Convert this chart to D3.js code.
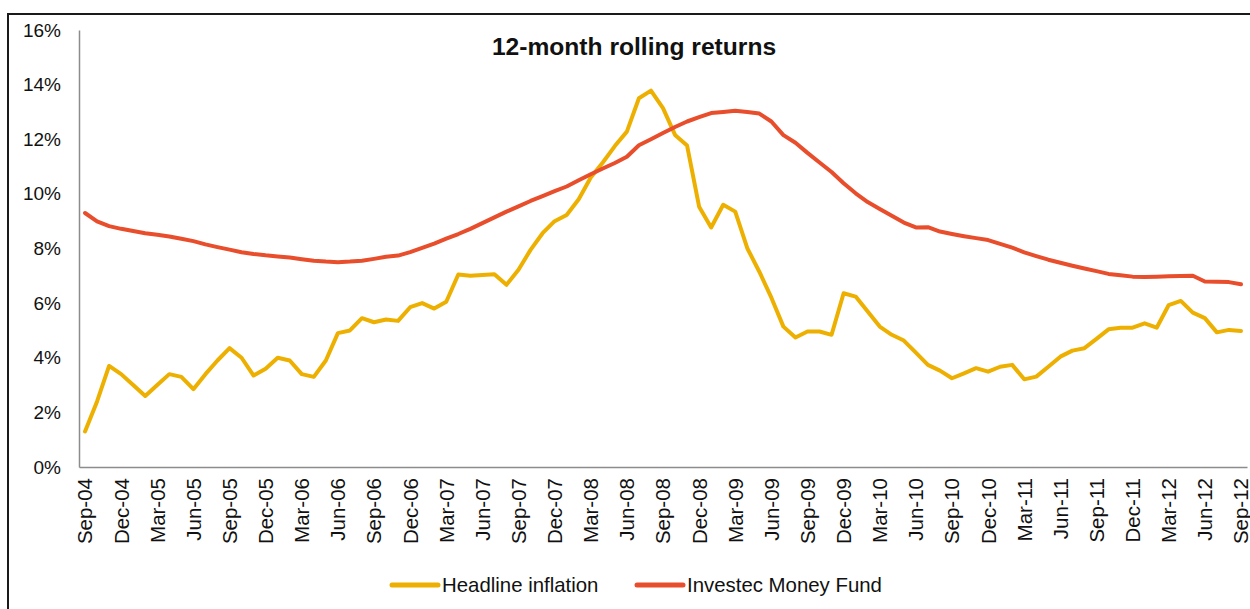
<!DOCTYPE html>
<html>
<head>
<meta charset="utf-8">
<script src="https://cdn.jsdelivr.net/npm/d3@7"></script>
<style>
  body { margin: 0; background: #fff; }
  svg { display: block; font-family: "Liberation Sans", Arial, sans-serif; }
</style>
</head>
<body>
<div id="chart"></div>
<script>
/* DATA */
// monthly categories Sep-04 .. Sep-12
const fmtMonth = d3.timeFormat("%b-%y");
const months = d3.timeMonths(new Date(2004, 8, 1), new Date(2012, 9, 1)).map(fmtMonth);

const headlineInflation = [
  1.3, 2.4, 3.7, 3.4, 3.0, 2.6, 3.0, 3.4, 3.3, 2.85, 3.4, 3.9,
  4.35, 4.0, 3.35, 3.6, 4.0, 3.9, 3.4, 3.3, 3.9, 4.9, 5.0, 5.45,
  5.3, 5.4, 5.35, 5.85, 6.0, 5.8, 6.05, 7.05, 7.0, 7.03, 7.06, 6.67,
  7.22, 7.95, 8.56, 9.0, 9.23, 9.8, 10.6, 11.15, 11.75, 12.28, 13.5, 13.78,
  13.14, 12.16, 11.77, 9.53, 8.77, 9.6, 9.35, 8.01, 7.15, 6.2, 5.14, 4.74,
  4.96, 4.96, 4.84, 6.36, 6.24, 5.69, 5.14, 4.84, 4.63, 4.19, 3.74, 3.53,
  3.25, 3.43, 3.62, 3.49, 3.67, 3.74, 3.21, 3.31, 3.67, 4.04, 4.26, 4.35,
  4.69, 5.04, 5.1, 5.1, 5.26, 5.1, 5.93, 6.08, 5.65, 5.45, 4.93, 5.02,
  4.98
];

const moneyFund = [
  9.3, 8.99, 8.82, 8.72, 8.64, 8.56, 8.5, 8.44, 8.36, 8.27, 8.15, 8.05,
  7.96, 7.86, 7.8, 7.75, 7.71, 7.67, 7.61, 7.55, 7.52, 7.5, 7.52, 7.55,
  7.62, 7.7, 7.74, 7.87, 8.02, 8.18, 8.36, 8.53, 8.72, 8.93, 9.14, 9.35,
  9.54, 9.74, 9.92, 10.1, 10.27, 10.5, 10.72, 10.93, 11.13, 11.36, 11.78, 12.0,
  12.23, 12.45, 12.65, 12.81, 12.96, 13.0, 13.04, 13.0, 12.94, 12.65, 12.15, 11.87,
  11.5, 11.15, 10.8, 10.39, 10.02, 9.7, 9.45, 9.2, 8.95, 8.77, 8.78, 8.62,
  8.53, 8.45, 8.38, 8.31, 8.17, 8.03, 7.86, 7.72, 7.59, 7.48, 7.37, 7.27,
  7.17, 7.07, 7.02, 6.97, 6.96, 6.97, 6.98, 6.99, 7.0, 6.79, 6.78, 6.77,
  6.69
];

const yTicks = [0, 2, 4, 6, 8, 10, 12, 14, 16];
const xTickLabels = months.filter((d, i) => i % 3 === 0);

const series = [
  { name: "Headline inflation", color: "#EDB000", values: headlineInflation },
  { name: "Investec Money Fund", color: "#E84E2C", values: moneyFund }
];

/* LAYOUT */
const width = 1250, height = 609;
const margin = { top: 30, left: 79, right: 3, bottom: 142 };

const svg = d3.select("#chart").append("svg")
  .attr("width", width)
  .attr("height", height);

// outer frame (only left and top edges fall inside the picture)
svg.append("rect")
  .attr("x", 8).attr("y", 14)
  .attr("width", 1300).attr("height", 700)
  .attr("fill", "none")
  .attr("stroke", "#1a1a1a")
  .attr("stroke-width", 2);

const xScale = d3.scaleBand()
  .domain(months)
  .range([margin.left, width - margin.right]);

const yScale = d3.scaleLinear()
  .domain([0, 16])
  .range([height - margin.bottom, margin.top]);

const xCenter = m => xScale(m) + xScale.bandwidth() / 2;

/* AXES */
const yAxis = d3.axisLeft(yScale)
  .tickValues(yTicks)
  .tickSize(0)
  .tickPadding(18)
  .tickFormat(d => d + "%");

const yG = svg.append("g")
  .attr("transform", `translate(${margin.left},0)`)
  .call(yAxis);
yG.select(".domain").attr("stroke", "#8c8c8c").attr("stroke-width", 1.5);
yG.selectAll("text").attr("font-size", 19).attr("fill", "#111").attr("font-family", null);

const xAxis = d3.axisBottom(xScale)
  .tickValues(xTickLabels)
  .tickSize(0)
  .tickSizeOuter(0);

const xG = svg.append("g")
  .attr("transform", `translate(0,${height - margin.bottom})`)
  .call(xAxis);
xG.select(".domain").attr("stroke", "#8c8c8c").attr("stroke-width", 1.5);
xG.selectAll("text")
  .attr("font-size", 20.5)
  .attr("font-family", null)
  .attr("fill", "#111")
  .attr("text-anchor", "end")
  .attr("transform", "rotate(-90)")
  .attr("x", -11)
  .attr("y", 0)
  .attr("dy", "0.36em");

/* LINES */
const line = d3.line()
  .x((d, i) => xCenter(months[i]))
  .y(d => yScale(d));

svg.selectAll("path.series")
  .data(series)
  .join("path")
  .attr("class", "series")
  .attr("fill", "none")
  .attr("stroke", d => d.color)
  .attr("stroke-width", 4)
  .attr("stroke-linejoin", "round")
  .attr("stroke-linecap", "round")
  .attr("d", d => line(d.values));

/* TITLE */
svg.append("text")
  .attr("x", 634)
  .attr("y", 55)
  .attr("text-anchor", "middle")
  .attr("font-size", 24.6)
  .attr("font-weight", "bold")
  .attr("fill", "#111")
  .text("12-month rolling returns");

/* LEGEND */
const legend = svg.selectAll("g.legend")
  .data(series)
  .join("g")
  .attr("class", "legend")
  .attr("transform", (d, i) => `translate(${[392, 637][i]},585)`);

legend.append("line")
  .attr("x1", 0).attr("x2", 46)
  .attr("stroke", d => d.color)
  .attr("stroke-width", 5)
  .attr("stroke-linecap", "round");

legend.append("text")
  .attr("x", 50)
  .attr("y", 7)
  .attr("font-size", 20.4)
  .attr("fill", "#111")
  .text(d => d.name);
</script>
</body>
</html>
